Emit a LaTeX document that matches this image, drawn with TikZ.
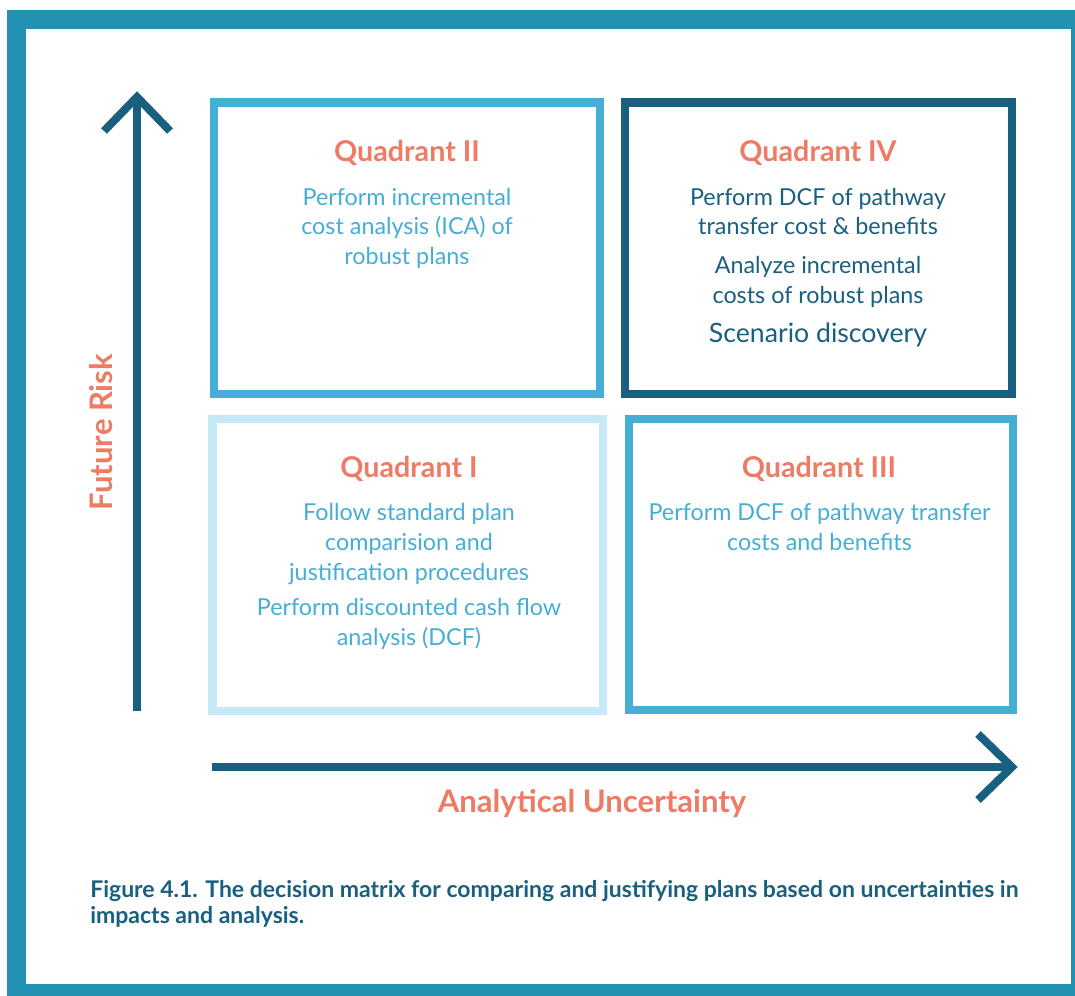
\documentclass[tikz,border=0pt]{standalone}
\usepackage{fontspec}
\setmainfont{Lato}
\definecolor{frameblue}{HTML}{2391B1}
\definecolor{darkteal}{HTML}{185F80}
\definecolor{midblue}{HTML}{45AED4}
\definecolor{paleblue}{HTML}{C6E9F7}
\definecolor{salmon}{HTML}{EE7B64}
\tikzset{
  frame/.style={draw=frameblue, line width=14.25pt},
  quad/.style={line width=6.3pt},
  axis/.style={draw=darkteal, line width=6pt},
  title/.style={anchor=base, text=salmon, font=\bfseries\fontsize{21.5}{24}\selectfont, inner sep=0pt},
  axlabel/.style={anchor=base, text=salmon, font=\bfseries\fontsize{23.3}{26}\selectfont, inner sep=0pt},
  body/.style={anchor=base, font=\fontsize{17.5}{20}\selectfont, inner sep=0pt},
  caption/.style={anchor=base west, text=darkteal, font=\bfseries\fontsize{17.25}{20}\selectfont, inner sep=0pt}
}
\begin{document}
\begin{tikzpicture}[x=0.75pt,y=-0.75pt]
\useasboundingbox (0,0) rectangle (1075,996);
% outer frame
\draw[frame] (16.5,19.5) rectangle (1080,993);

% quadrant boxes
\node[quad, draw=midblue, minimum width=386*0.75pt, minimum height=291.5*0.75pt, inner sep=0pt] (boxII) at (407,248.25) {};
\node[quad, draw=darkteal, minimum width=387*0.75pt, minimum height=291.5*0.75pt, inner sep=0pt] (boxIV) at (818.5,248.25) {};
\node[quad, draw=paleblue, minimum width=390.5*0.75pt, minimum height=292*0.75pt, inner sep=0pt] (boxI) at (407.75,565) {};
\node[quad, draw=midblue, minimum width=384*0.75pt, minimum height=291*0.75pt, inner sep=0pt] (boxIII) at (821,564.5) {};

% axes
\coordinate (ytail) at (137,711);
\coordinate (ytip) at (137,97);
\coordinate (xtail) at (212,767);
\coordinate (xtip) at (1012,767);
\draw[axis] (ytail) -- (ytip);
\draw[axis, line join=miter] ([shift={(-33,34)}]ytip) -- (ytip) -- ([shift={(33,34)}]ytip);
\draw[axis] (xtail) -- (xtip);
\draw[axis, line join=miter] ([shift={(-34,-33)}]xtip) -- (xtip) -- ([shift={(-34,33)}]xtip);

% axis labels
\node[axlabel, rotate=90] (risk) at (112,432) {Future Risk};
\node[axlabel] (unc) at (592,812) {Analytical Uncertainty};

% Quadrant II
\node[title] (tII) at (407,161) {Quadrant II};
\node[body, text=midblue] (q2a) at (407,205) {Perform incremental};
\node[body, text=midblue] (q2b) at (407,234.5) {cost analysis (ICA) of};
\node[body, text=midblue] (q2c) at (407,264) {robust plans};

% Quadrant IV
\node[title] (tIV) at (818,161) {Quadrant IV};
\node[body, text=darkteal] (q4a) at (818,205) {Perform DCF of pathway};
\node[body, text=darkteal] (q4b) at (818,234) {transfer cost \& benefits};
\node[body, text=darkteal] (q4c) at (818,273) {Analyze incremental};
\node[body, text=darkteal] (q4d) at (818,303) {costs of robust plans};
\node[body, text=darkteal, font=\fontsize{20}{24}\selectfont] (q4e) at (818,342) {Scenario discovery};

% Quadrant I
\node[title] (tI) at (409,477) {Quadrant I};
\node[body, text=midblue] (q1a) at (409,520) {Follow standard plan};
\node[body, text=midblue] (q1b) at (409,550) {comparision and};
\node[body, text=midblue] (q1c) at (409,580) {justification procedures};
\node[body, text=midblue] (q1d) at (409,615) {Perform discounted cash flow};
\node[body, text=midblue] (q1e) at (409,645) {analysis (DCF)};

% Quadrant III
\node[title] (tIII) at (819,477) {Quadrant III};
\node[body, text=midblue] (q3a) at (819.5,520) {Perform DCF of pathway transfer};
\node[body, text=midblue] (q3b) at (819.5,550) {costs and benefits};

% caption
\node[caption] (cap1) at (90,897) {Figure 4.1. The decision matrix for comparing and justifying plans based on uncertainties in};
\node[caption] (cap2) at (90,923) {impacts and analysis.};
\end{tikzpicture}
\end{document}
